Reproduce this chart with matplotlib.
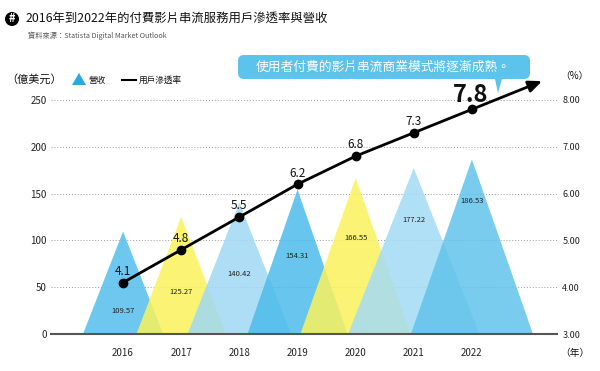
import matplotlib
matplotlib.use('Agg')
import matplotlib.pyplot as plt
from matplotlib.patches import Polygon, FancyBboxPatch, Circle

plt.rcParams['font.family'] = ['Noto Sans CJK TC', 'DejaVu Sans']

years = [2016, 2017, 2018, 2019, 2020, 2021, 2022]
revenue = [109.57, 125.27, 140.42, 154.31, 166.55, 177.22, 186.53]
penetration = [4.1, 4.8, 5.5, 6.2, 6.8, 7.3, 7.8]
left_ticks = [0, 50, 100, 150, 200, 250]
right_ticks = [3, 4, 5, 6, 7, 8]

# triangle styling
half_w = [0.69, 0.77, 0.89, 0.86, 0.95, 1.13, 1.05]
tri_colors = ['#55BEEB', '#FAF25C', '#9FD9F4', '#4DBBEA', '#FAF25C', '#A3DBF5', '#62C3EC']
label_h = [25, 45, 64, 83, 103, 122, 142]

fig = plt.figure(figsize=(6, 3.71), dpi=100)
ax = fig.add_axes([0.085, 0.0997, 0.843, 0.6308])
ax.set_xlim(2014.76, 2023.46)
ax.set_ylim(0, 250)

for yr, v, hw, c in zip(years, revenue, half_w, tri_colors):
    ax.add_patch(Polygon([(yr - hw, 0), (yr, v), (yr + hw, 0)], closed=True,
                         facecolor=c, edgecolor='none', alpha=0.85, zorder=2))
for yr, v, h in zip(years, revenue, label_h):
    ax.text(yr, h, f'{v:.2f}', ha='center', va='center', fontsize=5.5,
            color='#222222', zorder=4)

for t in left_ticks[1:]:
    ax.axhline(t, color='#999999', lw=0.7, ls=(0, (1, 2)), zorder=1)

for s in ['top', 'left', 'right']:
    ax.spines[s].set_visible(False)
ax.spines['bottom'].set_color('#555555')
ax.spines['bottom'].set_linewidth(1.5)
ax.spines['bottom'].set_zorder(5)
ax.set_xticks(years)
ax.set_xticklabels([str(y) for y in years], fontsize=7, color='#222222')
ax.set_yticks(left_ticks)
ax.set_yticklabels([str(t) for t in left_ticks], fontsize=7, color='#222222')
ax.tick_params(length=0, pad=3)
ax.tick_params(axis='x', pad=10)

ax2 = ax.twinx()
ax2.set_ylim(3, 8)
ax2.set_yticks(right_ticks)
ax2.set_yticklabels([f'{t:.2f}' for t in right_ticks], fontsize=6.5, color='#222222')
ax2.tick_params(length=0, pad=4)
for s in ax2.spines.values():
    s.set_visible(False)

ax2.plot(years, penetration, color='black', lw=2, marker='o', ms=6, zorder=6)
x_end = years[-1] + 1.25 * (years[-1] - years[-2])
y_end = penetration[-1] + 1.25 * (penetration[-1] - penetration[-2])
ax2.annotate('', xy=(x_end, y_end), xytext=(years[-1], penetration[-1]),
             arrowprops=dict(arrowstyle='-|>,head_length=0.8,head_width=0.35',
                             color='black', lw=2), annotation_clip=False)
for yr, p in zip(years[:-1], penetration[:-1]):
    ax2.text(yr, p + 0.1, f'{p}', ha='center', va='bottom', fontsize=8.5, color='#111111')
ax2.text(years[-1] - 0.03, penetration[-1] + 0.06, f'{penetration[-1]}', ha='center',
         va='bottom', fontsize=17, fontweight='bold', color='#111111')

# header
fig.patches.append(Circle((12, 352), 7, transform=None, facecolor='black'))
fig.text(12 / 600, 1 - 19 / 371, '#', ha='center', va='center', color='white',
         fontsize=8, fontweight='bold')
fig.text(26 / 600, 1 - 19 / 371, '2016年到2022年的付費影片串流服務用戶滲透率與營收',
         ha='left', va='center', fontsize=8.9, color='#111111')
fig.text(28 / 600, 1 - 36 / 371, '資料來源：Statista Digital Market Outlook',
         ha='left', va='center', fontsize=5.2, color='#555555')

# legend
fig.text(6 / 600, 1 - 79 / 371, '（億美元）', ha='left', va='center', fontsize=8, color='#111111')
fig.patches.append(Polygon([(72, 371 - 85), (79, 371 - 73), (86, 371 - 85)],
                           closed=True, transform=None, facecolor='#2EA7E0'))
fig.text(89 / 600, 1 - 80 / 371, '營收', ha='left', va='center', fontsize=6.2, color='#111111')
fig.lines.append(plt.Line2D([122, 136], [371 - 80, 371 - 80], transform=None,
                            color='black', lw=1.5))
fig.text(139 / 600, 1 - 80 / 371, '用戶滲透率', ha='left', va='center', fontsize=6.2,
         color='#111111')

# callout
fig.patches.append(FancyBboxPatch((238, 371 - 79), 292, 24, transform=None,
                                  boxstyle='round,pad=0,rounding_size=6',
                                  facecolor='#5BC3EC', edgecolor='none'))
fig.patches.append(Polygon([(495, 371 - 79), (502, 371 - 79), (498, 371 - 93)],
                           closed=True, transform=None, facecolor='#5BC3EC'))
fig.text(383 / 600, 1 - 67 / 371, '使用者付費的影片串流商業模式將逐漸成熟。',
         ha='center', va='center', fontsize=9.2, color='white')

fig.text(560 / 600, 1 - 76 / 371, '（%）', ha='left', va='center', fontsize=7, color='#111111')
fig.text(560 / 600, 1 - 353 / 371, '（年）', ha='left', va='center', fontsize=7, color='#111111')

fig.savefig('out.png', dpi=100)
